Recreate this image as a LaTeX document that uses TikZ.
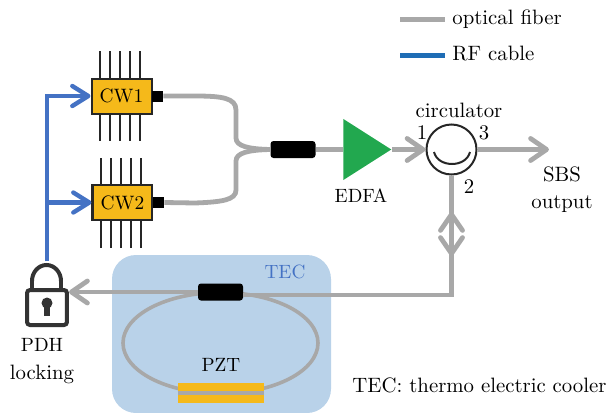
\documentclass[tikz,border=0pt]{standalone}
\usetikzlibrary{arrows.meta,shapes.geometric}
\definecolor{fibergray}{HTML}{A8A8A8}
\definecolor{rfblue}{HTML}{4472C4}
\definecolor{legblue}{HTML}{1F6DB5}
\definecolor{chiporange}{HTML}{F5B91A}
\definecolor{ampgreen}{HTML}{22A84F}
\definecolor{tecblue}{HTML}{B9D2E9}
\definecolor{lockgray}{HTML}{333333}
\tikzset{
    every node/.style = {font = \fontsize{10.4}{12}\selectfont},
    fiber/.style = {draw = fibergray, line width = 2.4pt},
    rf/.style = {draw = rfblue, line width = 2.2pt},
    fibertip/.style = {-{Straight Barb[length = 8pt, width = 11pt, round]}},
    pin/.style = {draw = black!85, line width = 1pt},
    chip/.style = {draw = black!85, line width = 1pt, fill = chiporange, minimum width = 30pt, minimum height = 17.5pt, inner sep = 0pt, font = \fontsize{9.7}{12}\selectfont},
    port/.style = {fill = black, minimum size = 5.5pt, inner sep = 0pt},
    coupler/.style = {fill = black, rounded corners = 1.5pt, minimum width = 22.5pt, minimum height = 8.5pt, inner sep = 0pt},
    label/.style = {inner sep = 0pt},
    capstext/.style = {inner sep = 0pt, font = \fontsize{9.6}{12}\selectfont}
}
\begin{document}
\begin{tikzpicture}[x = 0.5pt, y = -0.5pt]
        \useasboundingbox (0,0) rectangle (607,413);

        % TEC plate and cavity
        \node (tec) [fill = tecblue, rounded corners = 12pt, minimum width = 109.5pt, minimum height = 79pt, inner sep = 0pt] at (221.5,334) {};
        \node (tectext) [capstext, text = rfblue] at (285,272) {TEC};
        \node (ring) [ellipse, draw = fibergray, line width = 1.8pt, minimum width = 97.5pt, minimum height = 50.5pt, inner sep = 0pt] at (220.5,343) {};
        \node (pzt) [fill = chiporange, minimum width = 43pt, minimum height = 10pt, inner sep = 0pt] at (221,393) {};
        \draw[draw = fibergray, line width = 1.8pt] (pzt.west) -- (pzt.east);
        \node (pzttext) [capstext] at (221,365) {PZT};

        % lasers
        \foreach \x in {100,110,120,130,140} \draw[pin] (\x,51) -- (\x,141);
        \foreach \x in {101,111,121,131,141} \draw[pin] (\x,158) -- (\x,248);
        \node (cwa) [chip] at (121.5,96) {CW1};
        \node (cwb) [chip] at (122.5,202.5) {CW2};
        \node (porta) [port] at (157.5,96) {};
        \node (portb) [port] at (158.5,202.5) {};

        % optical path
        \node (cpa) [coupler] at (293,149.5) {};
        \node (edfa) [isosceles triangle, isosceles triangle apex angle = 65, fill = ampgreen, minimum height = 24pt, inner sep = 0pt, anchor = apex] at (392,149.5) {};
        \node (circ) [circle, draw = black!85, line width = 1pt, minimum size = 25pt, inner sep = 0pt] at (451.5,149.5) {};
        \node (cpb) [coupler] at (220.5,292) {};
        \coordinate (sbs) at (549,149.5);
        \coordinate (corner) at (451.5,295);
        \coordinate (dbltop) at (451.5,212);
        \coordinate (dblbot) at (451.5,256);

        \draw[fiber] (porta.east) -- (195,96) .. controls (222,96) and (236,98) .. (236,110) -- (236,138) .. controls (236,146) and (248,149) .. (cpa.west);
        \draw[fiber] (portb.east) -- (195,203) .. controls (222,202) and (236,200) .. (236,190) -- (236,161) .. controls (236,153) and (248,150) .. (cpa.west);
        \draw[fiber] (cpa.east) -- (edfa.west);
        \draw[fiber, fibertip] (edfa.apex) -- (circ.west);
        \draw[fiber, fibertip] (circ.east) -- (sbs);
        \draw[fiber] (circ.south) -- (corner) -- (cpb.east |- corner);
        \draw[fiber, fibertip] (dblbot) -- (dbltop);
        \draw[fiber, fibertip] (dbltop) -- (dblbot);
        \draw[black!85, line width = 1pt] (434,152) .. controls (438,168) and (466,168) .. (470,152);

        % locking
        \node (lock) [draw = lockgray, line width = 2pt, rounded corners = 1.5pt, minimum width = 20pt, minimum height = 17.5pt, inner sep = 0pt] at (47,307.5) {};
        \draw[draw = lockgray, line width = 2pt] (32,289) -- (32,281) arc (180:360:14.5 and 16) -- (61,289);
        \fill[lockgray] (47,303) circle (5.5);
        \fill[lockgray] (44,304) -- (50,304) -- (50,316) -- (44,316) -- cycle;
        \coordinate (locktop) at (47,261);
        \draw[fiber, fibertip] (cpb.west) -- (lock.east |- cpb.west);
        \draw[rf, -{Straight Barb[length = 8pt, width = 10pt, round]}] (locktop) |- (cwa.west);
        \draw[rf, -{Straight Barb[length = 8pt, width = 10pt, round]}] (locktop) |- (cwb.west);

        % texts
        \node (edfatext) [capstext] at (361,196) {EDFA};
        \node (circtext) [label] at (459,110) {circulator};
        \node (one) [label] at (422,133) {1};
        \node (two) [label] at (469,187) {2};
        \node (three) [label] at (484,133) {3};
        \node (sbstext) [label] at (562,174) {SBS};
        \node (outtext) [label] at (562,204) {output};
        \node (pdhtext) [capstext] at (42,345) {PDH};
        \node (locktext) [label] at (42,374) {locking};
        \node (note) [label] at (479.5,385) {TEC: thermo electric cooler};

        % legend
        \node (legfiber) [anchor = west, inner sep = 3.5pt] at (445,19) {optical fiber};
        \node (legrf) [anchor = west, inner sep = 3.5pt] at (445,54) {RF cable};
        \coordinate (lega) at (400,19);
        \coordinate (legb) at (400,55);
        \draw[fiber, line width = 2.5pt] (lega) -- (legfiber.west);
        \draw[draw = legblue, line width = 2.5pt] (legb) -- (legb -| legrf.west);
    \end{tikzpicture}
\end{document}
